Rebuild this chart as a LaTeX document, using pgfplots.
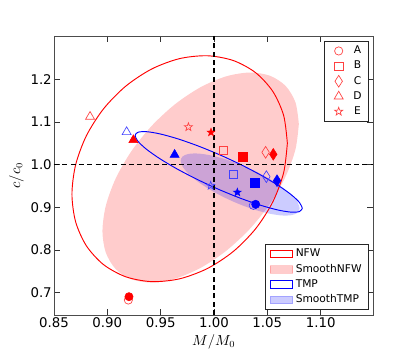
\documentclass[border=0pt]{standalone}
\usepackage{fontspec}
\setmainfont{DejaVu Sans}
\usepackage{pgfplots}
\usepackage{pgfplotstable}
\pgfplotsset{compat=1.18}
\usetikzlibrary{calc}

% five-pointed star marks (filled and open)
\pgfdeclareplotmark{fstar}{%
  \pgfpathmoveto{\pgfpointpolar{90}{\pgfplotmarksize}}%
  \pgfpathlineto{\pgfpointpolar{126}{0.4\pgfplotmarksize}}%
  \pgfpathlineto{\pgfpointpolar{162}{\pgfplotmarksize}}%
  \pgfpathlineto{\pgfpointpolar{198}{0.4\pgfplotmarksize}}%
  \pgfpathlineto{\pgfpointpolar{234}{\pgfplotmarksize}}%
  \pgfpathlineto{\pgfpointpolar{270}{0.4\pgfplotmarksize}}%
  \pgfpathlineto{\pgfpointpolar{306}{\pgfplotmarksize}}%
  \pgfpathlineto{\pgfpointpolar{342}{0.4\pgfplotmarksize}}%
  \pgfpathlineto{\pgfpointpolar{18}{\pgfplotmarksize}}%
  \pgfpathlineto{\pgfpointpolar{54}{0.4\pgfplotmarksize}}%
  \pgfpathclose
  \pgfusepathqfillstroke}
\pgfdeclareplotmark{ostar}{%
  \pgfpathmoveto{\pgfpointpolar{90}{\pgfplotmarksize}}%
  \pgfpathlineto{\pgfpointpolar{126}{0.4\pgfplotmarksize}}%
  \pgfpathlineto{\pgfpointpolar{162}{\pgfplotmarksize}}%
  \pgfpathlineto{\pgfpointpolar{198}{0.4\pgfplotmarksize}}%
  \pgfpathlineto{\pgfpointpolar{234}{\pgfplotmarksize}}%
  \pgfpathlineto{\pgfpointpolar{270}{0.4\pgfplotmarksize}}%
  \pgfpathlineto{\pgfpointpolar{306}{\pgfplotmarksize}}%
  \pgfpathlineto{\pgfpointpolar{342}{0.4\pgfplotmarksize}}%
  \pgfpathlineto{\pgfpointpolar{18}{\pgfplotmarksize}}%
  \pgfpathlineto{\pgfpointpolar{54}{0.4\pgfplotmarksize}}%
  \pgfpathclose
  \pgfusepathqstroke}

% contours read off the figure
\pgfplotstableread{
x y
1.06878 1.05032
1.06534 0.98150
1.05525 0.91329
1.03921 0.85037
1.01830 0.79699
0.99394 0.75680
0.96781 0.73253
0.94168 0.72586
0.91732 0.73723
0.89641 0.76585
0.88037 0.80979
0.87028 0.86606
0.86684 0.93080
0.87028 0.99962
0.88037 1.06783
0.89641 1.13075
0.91732 1.18413
0.94168 1.22432
0.96781 1.24859
0.99394 1.25526
1.01830 1.24389
1.03921 1.21527
1.05525 1.17133
1.06534 1.11506
1.06878 1.05032
}\nfw

\pgfplotstableread{
x y
1.07956 1.09531
1.07642 1.03623
1.06722 0.97264
1.05260 0.90887
1.03353 0.84925
1.01133 0.79786
0.98750 0.75819
0.96367 0.73296
0.94147 0.72387
0.92240 0.73155
0.90778 0.75548
0.89858 0.79403
0.89544 0.84455
0.89858 0.90363
0.90778 0.96722
0.92240 1.03099
0.94147 1.09061
0.96367 1.14200
0.98750 1.18167
1.01133 1.20690
1.03353 1.21599
1.05260 1.20831
1.06722 1.18438
1.07642 1.14583
1.07956 1.09531
}\smoothnfw

\pgfplotstableread{
x y
1.08284 0.89785
1.08017 0.89015
1.07234 0.88876
1.05989 0.89381
1.04366 0.90494
1.02475 0.92140
1.00447 0.94205
0.98419 0.96550
0.96528 0.99016
0.94905 1.01431
0.93660 1.03634
0.92877 1.05475
0.92610 1.06827
0.92877 1.07597
0.93660 1.07736
0.94905 1.07231
0.96528 1.06118
0.98419 1.04472
1.00447 1.02407
1.02475 1.00062
1.04366 0.97596
1.05989 0.95181
1.07234 0.92978
1.08017 0.91137
1.08284 0.89785
}\tmp

\pgfplotstableread{
x y
1.08031 0.89773
1.07841 0.88750
1.07284 0.88176
1.06397 0.88093
1.05242 0.88503
1.03897 0.89380
1.02453 0.90664
1.01009 0.92268
0.99664 0.94081
0.98509 0.95981
0.97622 0.97838
0.97065 0.99526
0.96875 1.00929
0.97065 1.01952
0.97622 1.02526
0.98509 1.02609
0.99664 1.02199
1.01009 1.01322
1.02453 1.00038
1.03897 0.98434
1.05242 0.96621
1.06397 0.94721
1.07284 0.92864
1.07841 0.91176
1.08031 0.89773
}\smoothtmp

\begin{document}
\begin{tikzpicture}
\begin{axis}[
    name=ax,
    scale only axis,
    width=239.5pt,
    height=209.25pt,
    xmin=0.85, xmax=1.1494,
    ymin=0.6477, ymax=1.3016,
    xtick={0.85,0.90,0.95,1.00,1.05,1.10},
    ytick={0.7,0.8,0.9,1.0,1.1,1.2},
    x tick label style={/pgf/number format/fixed,/pgf/number format/fixed zerofill,/pgf/number format/precision=2},
    y tick label style={/pgf/number format/fixed,/pgf/number format/fixed zerofill,/pgf/number format/precision=1},
    /pgf/number format/assume math mode=true,
    tick align=inside,
    major tick length=4.5pt,
    minor tick num=0,
    tick style={black!80, line width=0.5pt},
    axis line style={black!70, line width=0.5pt},
    tick label style={font=\fontsize{10}{12}\selectfont, inner sep=1.5pt},
    xlabel={$M/M_0$},
    ylabel={$c/c_0$},
    label style={font=\fontsize{10.5}{12}\selectfont},
    legend style={at={(0.9853,0.0179)}, anchor=south east, draw=black!85,
        line width=0.6pt, font=\fontsize{8}{9.6}\selectfont, row sep=0pt,
        inner xsep=3pt, inner ysep=1.5pt},
    legend cell align=left,
    legend image code/.code={\draw[#1] (0pt,-2.75pt) rectangle (16.7pt,2.75pt);},
]
\addplot[forget plot, draw=none, fill=red, fill opacity=0.2, smooth] table {\smoothnfw};
\addplot[forget plot, draw=none, fill=blue, fill opacity=0.2, smooth] table {\smoothtmp};
\addplot[forget plot, red, line width=0.7pt, smooth] table {\nfw};
\addplot[forget plot, blue, line width=0.7pt, smooth] table {\tmp};

\addplot[forget plot, black, line width=0.9pt, dash pattern=on 3.75pt off 2.5pt] coordinates {(1,0.6477) (1,1.3016)};
\addplot[forget plot, black, line width=0.9pt, dash pattern=on 3.75pt off 2.5pt] coordinates {(0.85,1) (1.1494,1)};

% NFW, open red
\addplot[forget plot, only marks, mark=o, mark size=3.1pt, red!75, line width=0.5pt, mark options={fill=none}] coordinates {(0.9197,0.6828)};
\addplot[forget plot, only marks, mark=square, mark size=3.1pt, red!75, line width=0.5pt, mark options={fill=none}] coordinates {(1.0088,1.0344)};
\addplot[forget plot, only marks, mark=diamond, mark size=4.4pt, mark options={xscale=0.85, fill=none}, red!75, line width=0.5pt] coordinates {(1.0484,1.0290)};
\addplot[forget plot, only marks, mark=triangle, mark size=3.9pt, red!75, line width=0.5pt, mark options={fill=none}] coordinates {(0.8838,1.1124)};
\addplot[forget plot, only marks, mark=ostar, mark size=3.2pt, red!75, line width=0.5pt] coordinates {(0.9760,1.0883)};
% SmoothNFW, filled red
\addplot[forget plot, only marks, mark=*, mark size=3.1pt, red] coordinates {(0.9203,0.6906)};
\addplot[forget plot, only marks, mark=square*, mark size=3.2pt, red] coordinates {(1.0269,1.0180)};
\addplot[forget plot, only marks, mark=diamond*, mark size=4.4pt, mark options={xscale=0.85}, red] coordinates {(1.0556,1.0242)};
\addplot[forget plot, only marks, mark=triangle*, mark size=3.9pt, red] coordinates {(0.9244,1.0578)};
\addplot[forget plot, only marks, mark=fstar, mark size=3.1pt, red] coordinates {(0.9972,1.0758)};
% TMP, open blue
\addplot[forget plot, only marks, mark=o, mark size=3.1pt, blue!75, line width=0.5pt, mark options={fill=none}] coordinates {(1.0369,0.9047)};
\addplot[forget plot, only marks, mark=square, mark size=3.1pt, blue!75, line width=0.5pt, mark options={fill=none}] coordinates {(1.0178,0.9781)};
\addplot[forget plot, only marks, mark=diamond, mark size=4.4pt, mark options={xscale=0.85, fill=none}, blue!75, line width=0.5pt] coordinates {(1.0491,0.9719)};
\addplot[forget plot, only marks, mark=triangle, mark size=3.9pt, blue!75, line width=0.5pt, mark options={fill=none}] coordinates {(0.9181,1.0766)};
\addplot[forget plot, only marks, mark=ostar, mark size=3.2pt, blue!75, line width=0.5pt] coordinates {(0.9969,0.9508)};
% SmoothTMP, filled blue
\addplot[forget plot, only marks, mark=*, mark size=3.1pt, blue] coordinates {(1.0391,0.9071)};
\addplot[forget plot, only marks, mark=square*, mark size=3.2pt, blue] coordinates {(1.0384,0.9570)};
\addplot[forget plot, only marks, mark=diamond*, mark size=4.4pt, mark options={xscale=0.85}, blue] coordinates {(1.0591,0.9625)};
\addplot[forget plot, only marks, mark=triangle*, mark size=3.9pt, blue] coordinates {(0.9631,1.0234)};
\addplot[forget plot, only marks, mark=fstar, mark size=3.1pt, blue] coordinates {(1.0219,0.9352)};

\addlegendimage{draw=red, line width=0.7pt, fill=none}
\addlegendentry{NFW}
\addlegendimage{draw=red, draw opacity=0.2, fill=red, fill opacity=0.2}
\addlegendentry{SmoothNFW}
\addlegendimage{draw=blue, line width=0.7pt, fill=none}
\addlegendentry{TMP}
\addlegendimage{draw=blue, draw opacity=0.2, fill=blue, fill opacity=0.2}
\addlegendentry{SmoothTMP}
\end{axis}

\begin{axis}[
    at={(ax.south west)}, anchor=south west,
    scale only axis,
    width=239.5pt,
    height=209.25pt,
    xmin=0.85, xmax=1.1494,
    ymin=0.6477, ymax=1.3016,
    hide axis,
    legend style={at={(0.9853,0.982)}, anchor=north east, draw=black!85,
        line width=0.6pt, font=\fontsize{8}{9.6}\selectfont, row sep=0pt,
        inner xsep=3pt, inner ysep=1.5pt},
    legend image code/.code={\path[draw=none] (0pt,0pt) (17pt,0pt); \draw[#1] plot coordinates {(8pt,0pt)};},
]
\addlegendimage{only marks, mark=o, mark size=3.1pt, red!75, line width=0.5pt, mark options={fill=none}}
\addlegendentry{A}
\addlegendimage{only marks, mark=square, mark size=3.1pt, red!75, line width=0.5pt, mark options={fill=none}}
\addlegendentry{B}
\addlegendimage{only marks, mark=diamond, mark size=4.4pt, mark options={xscale=0.85, fill=none}, red!75, line width=0.5pt}
\addlegendentry{C}
\addlegendimage{only marks, mark=triangle, mark size=3.9pt, red!75, line width=0.5pt, mark options={fill=none}}
\addlegendentry{D}
\addlegendimage{only marks, mark=ostar, mark size=3.2pt, red!75, line width=0.5pt}
\addlegendentry{E}
\end{axis}

\path ($(ax.south west)+(-40.5pt,-36pt)$) rectangle ($(ax.south west)+(270.75pt,236.25pt)$);
\end{tikzpicture}
\end{document}
